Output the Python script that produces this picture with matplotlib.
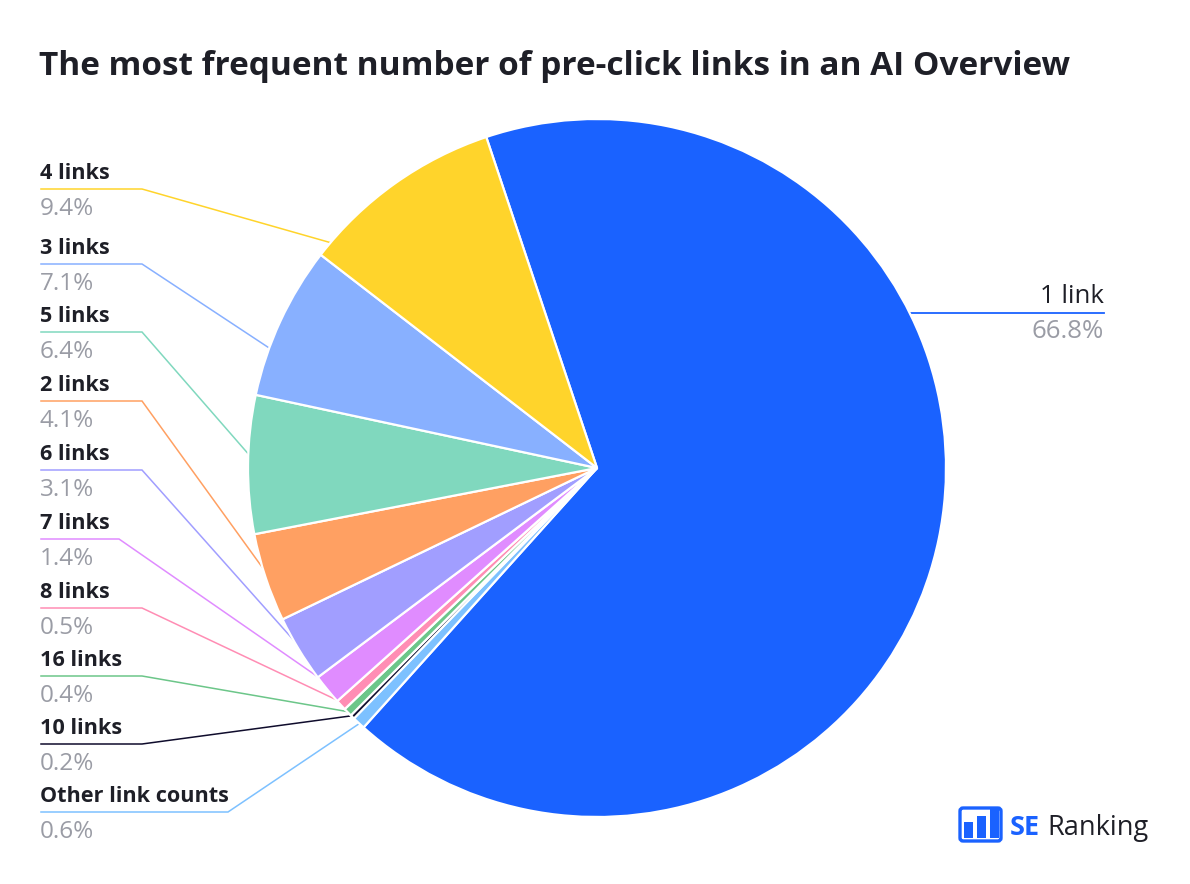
import numpy as np
import matplotlib
matplotlib.use("Agg")
import matplotlib.pyplot as plt
from matplotlib.patches import FancyBboxPatch, Rectangle

# ---------------- data ----------------
categories = ["1 link", "Other link counts", "10 links", "16 links", "8 links",
              "7 links", "6 links", "2 links", "5 links", "3 links", "4 links"]
shares = [66.8, 0.6, 0.2, 0.4, 0.5, 1.4, 3.1, 4.1, 6.4, 7.1, 9.4]
colors = ["#1A62FF", "#7DC1FF", "#0F0C2C", "#6CC689", "#FF8DB4",
          "#E08CFF", "#A19EFF", "#FFA062", "#80D8BE", "#88B0FF", "#FFD42B"]

title = "The most frequent number of pre-click links in an AI Overview"

# ---------------- layout (pixels, image coordinates) ----------------
W, H = 1190, 884
CX, CY, R = 597, 468, 349
START_ANGLE = 108.5          # matplotlib degrees (ccw from +x)

# left labels: order top->bottom, underline y, bend x, where on slice connector lands
left_order = ["4 links", "3 links", "5 links", "2 links", "6 links",
              "7 links", "8 links", "16 links", "10 links", "Other link counts"]
left_line_y = [189, 264, 332, 401, 470, 539, 608, 676, 744, 812]
left_bend_x = [142, 142, 142, 142, 142, 119, 142, 142, 142, 228]
left_frac = [0.08, 0.31, 0.56, 0.55, 0.52, 0.85, 0.75, 0.3, 0.5, 0.4]
LABEL_X = 41

def Y(y):
    return H - y

fig = plt.figure(figsize=(W / 100, H / 100), dpi=100)
ax = fig.add_axes([0, 0, 1, 1])

wedges, _ = ax.pie(shares, colors=colors, startangle=START_ANGLE, counterclock=False,
                   center=(CX, Y(CY)), radius=R,
                   wedgeprops=dict(edgecolor="white", linewidth=1.6, zorder=3))
ax.set_xlim(0, W)
ax.set_ylim(0, H)
ax.set_aspect("equal")
ax.axis("off")

# slice angle spans (matplotlib degrees)
total = sum(shares)
angles = {}
a = START_ANGLE
for c, s in zip(categories, shares):
    span = 360.0 * s / total
    angles[c] = (a, a - span)   # clockwise
    a -= span

name_color = "#1E1F27"
pct_color = "#9A9CA5"
FONT = "Open Sans"

for name, ly, bx, fr in zip(left_order, left_line_y, left_bend_x, left_frac):
    i = categories.index(name)
    a0, a1 = angles[name]
    ang = np.deg2rad(a0 + (a1 - a0) * fr)
    ex = CX + (R - 2) * np.cos(ang)
    ey = Y(CY) + (R - 2) * np.sin(ang)
    ax.plot([LABEL_X, bx, ex], [Y(ly), Y(ly), ey], color=colors[i], lw=1.1,
            zorder=2, solid_joinstyle="miter")
    ax.text(LABEL_X - 1, Y(ly - 10), name, fontsize=15.6, fontweight="bold",
            color=name_color, family=FONT, va="baseline", ha="left")
    ax.text(LABEL_X - 1, Y(ly + 26), f"{shares[i]:.1f}%", fontsize=17.5,
            color=pct_color, family=FONT, va="baseline", ha="left")

# right label for the largest slice
ry = 313
rx_end = 1104
ex = CX + np.sqrt(R ** 2 - (CY - ry) ** 2) - 2
ax.plot([ex, rx_end], [Y(ry), Y(ry)], color=colors[0], lw=1.3, zorder=2)
ax.text(rx_end, Y(ry - 10), categories[0], fontsize=18.5, color=name_color,
        family=FONT, va="baseline", ha="right")
ax.text(rx_end, Y(ry + 25), f"{shares[0]:.1f}%", fontsize=18.5, color=pct_color,
        family=FONT, va="baseline", ha="right")

# title
ax.text(39, Y(75), title, fontsize=24, fontweight="bold", color="#1E1F27",
        family=FONT, va="baseline", ha="left")

# logo
logo_blue = "#1A62FF"
ax.add_patch(FancyBboxPatch((960, Y(841)), 41, 33,
                            boxstyle="round,pad=0,rounding_size=3",
                            fill=False, edgecolor=logo_blue, lw=2.4, zorder=5))
for bx0, top in [(963.5, 822), (976.5, 815.5), (989.5, 809)]:
    ax.add_patch(Rectangle((bx0, Y(838)), 9.5, 838 - top, facecolor=logo_blue,
                           edgecolor="none", zorder=5))
ax.text(1010, Y(835), "SE", fontsize=19.5, fontweight="bold", color=logo_blue,
        family="Open Sans", va="baseline", ha="left")
ax.text(1047, Y(835), "Ranking", fontsize=19.5, color="#1E1F27",
        family="Open Sans", va="baseline", ha="left")

fig.savefig("out.png", dpi=100, facecolor="white")
